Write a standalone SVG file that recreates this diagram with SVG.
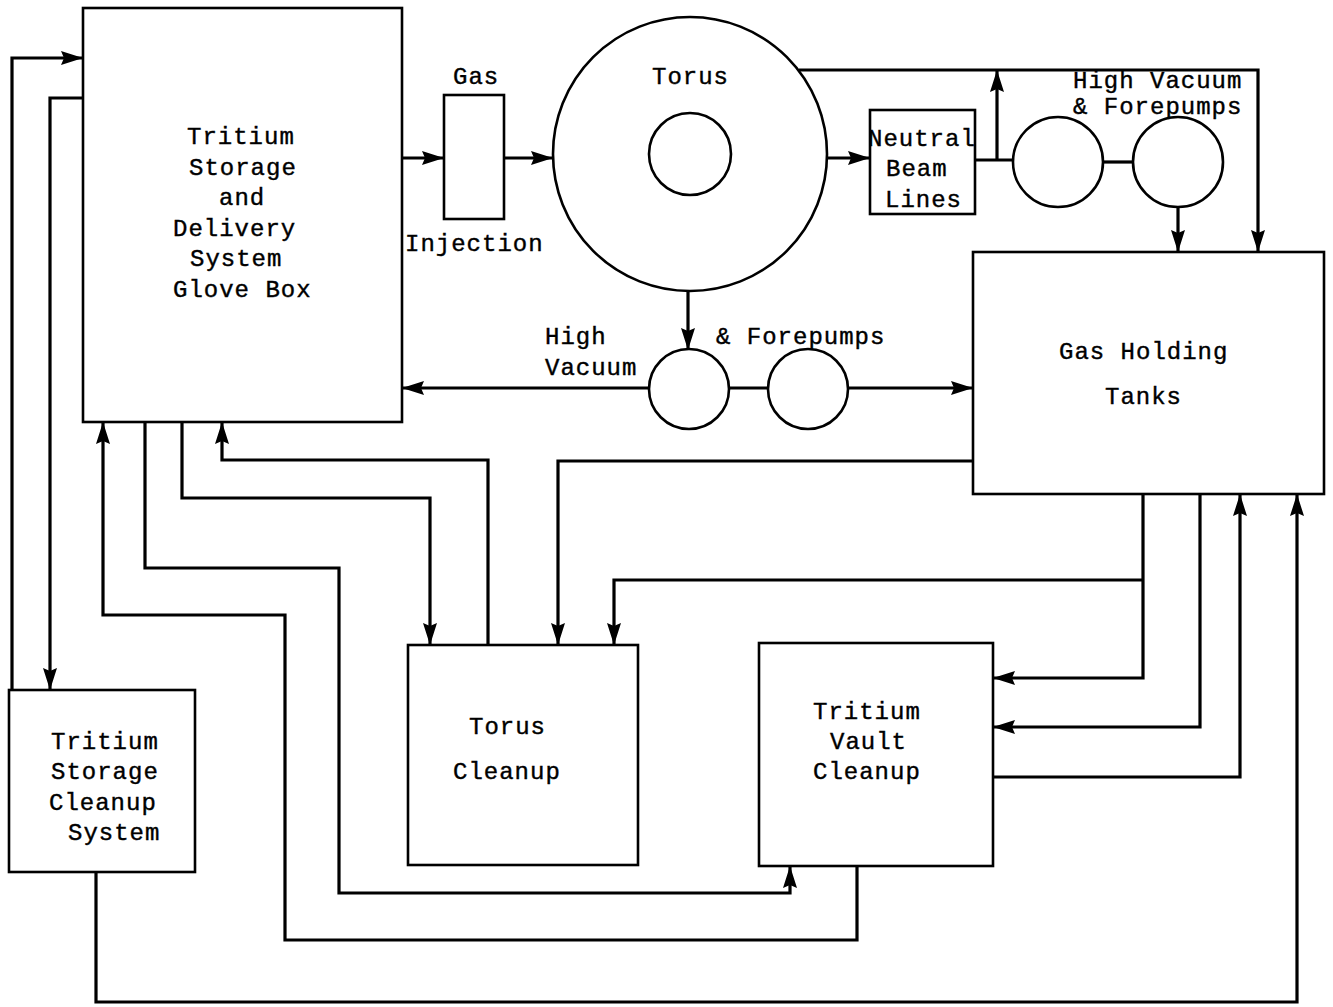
<svg xmlns="http://www.w3.org/2000/svg" width="1333" height="1007" viewBox="0 0 1333 1007">
<style>
.box{fill:none;stroke:#000;stroke-width:2.6}
.c{fill:none;stroke:#000;stroke-width:3.2;stroke-linejoin:miter}
.a{marker-end:url(#ah)}
text{font-family:"Liberation Mono","DejaVu Sans Mono",monospace;font-size:24px;letter-spacing:1px;fill:#000;stroke:#000;stroke-width:0.4}
</style>
<defs>
<marker id="ah" markerUnits="userSpaceOnUse" markerWidth="24" markerHeight="16" refX="22" refY="7" orient="auto">
<path d="M0,0 L22,7 L0,14 L3,7 z" fill="#000"/>
</marker>
</defs>
<rect width="1333" height="1007" fill="#fff"/>
<g id="connectors">
<path class="c a" d="M12 690 V58 H83"/>
<path class="c a" d="M83 98 H50 V690"/>
<path class="c a" d="M402 158 H444"/>
<path class="c a" d="M504 158 H553"/>
<path class="c a" d="M828 158 H870"/>
<path class="c" d="M975 160 H1013"/>
<path class="c a" d="M997 160 V70"/>
<path class="c a" d="M799 70 H1258 V252"/>
<path class="c" d="M1104 162 H1134"/>
<path class="c a" d="M1178 207 V252"/>
<path class="c a" d="M688 291 V350"/>
<path class="c a" d="M649 388 H402"/>
<path class="c" d="M729 388 H768"/>
<path class="c a" d="M848 388 H973"/>
<path class="c a" d="M973 461 H558 V645"/>
<path class="c a" d="M488 645 V460 H222 V422"/>
<path class="c a" d="M182 422 V498 H430 V645"/>
<path class="c a" d="M1143 494 V678 H993"/>
<path class="c a" d="M1143 580 H614 V645"/>
<path class="c a" d="M1200 494 V727 H993"/>
<path class="c a" d="M993 777 H1240 V494"/>
<path class="c a" d="M96 872 V1002 H1297 V494"/>
<path class="c a" d="M857 866 V940 H285 V615 H103 V422"/>
<path class="c a" d="M145 422 V568 H339 V893 H790 V866"/>
</g>
<g id="glovebox">
<rect class="box" x="83" y="8" width="319" height="414"/>
<text x="187" y="144">Tritium</text>
<text x="189" y="175">Storage</text>
<text x="219" y="205">and</text>
<text x="173" y="236">Delivery</text>
<text x="190" y="266">System</text>
<text x="173" y="297">Glove Box</text>
</g>
<g id="gasinjection">
<rect class="box" x="444" y="95" width="60" height="124"/>
<text x="453" y="84">Gas</text>
<text x="405" y="251">Injection</text>
</g>
<g id="torus">
<circle class="box" cx="690" cy="154" r="137"/>
<circle class="box" cx="690" cy="154" r="41"/>
<text x="652" y="84">Torus</text>
</g>
<g id="neutralbeam">
<rect class="box" x="870" y="110" width="105" height="104"/>
<text x="868" y="146">Neutral</text>
<text x="886" y="176">Beam</text>
<text x="885" y="207">Lines</text>
</g>
<g id="upperpumps">
<circle class="box" cx="1058" cy="162" r="45"/>
<circle class="box" cx="1178" cy="162" r="45"/>
<text x="1073" y="88">High Vacuum</text>
<text x="1073" y="114">&amp; Forepumps</text>
</g>
<g id="lowerpumps">
<circle class="box" cx="689" cy="389" r="40"/>
<circle class="box" cx="808" cy="389" r="40"/>
<text x="545" y="344">High</text>
<text x="545" y="375">Vacuum</text>
<text x="716" y="344">&amp; Forepumps</text>
</g>
<g id="gasholding">
<rect class="box" x="973" y="252" width="351" height="242"/>
<text x="1059" y="359">Gas Holding</text>
<text x="1105" y="404">Tanks</text>
</g>
<g id="toruscleanup">
<rect class="box" x="408" y="645" width="230" height="220"/>
<text x="469" y="734">Torus</text>
<text x="453" y="779">Cleanup</text>
</g>
<g id="vaultcleanup">
<rect class="box" x="759" y="643" width="234" height="223"/>
<text x="813" y="719">Tritium</text>
<text x="830" y="749">Vault</text>
<text x="813" y="779">Cleanup</text>
</g>
<g id="storagecleanup">
<rect class="box" x="9" y="690" width="186" height="182"/>
<text x="51" y="749">Tritium</text>
<text x="51" y="779">Storage</text>
<text x="49" y="810">Cleanup</text>
<text x="68" y="840">System</text>
</g>
</svg>
